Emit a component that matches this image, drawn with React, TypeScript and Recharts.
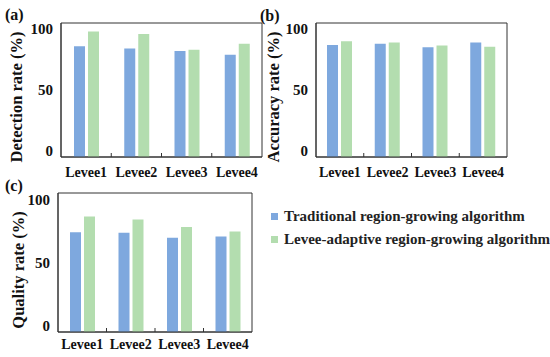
import React from "react";
import { BarChart, Bar, XAxis, YAxis, ReferenceArea, Legend } from "recharts";

const levees = ["Levee1", "Levee2", "Levee3", "Levee4"];
const detectionTraditional = [86, 84, 82, 79];
const detectionAdaptive = [98, 96, 83, 88];
const accuracyTraditional = [87, 88, 85, 89];
const accuracyAdaptive = [90, 89, 86.5, 85.5];
const qualityTraditional = [74, 73.5, 69.5, 70.5];
const qualityAdaptive = [86.5, 84, 78, 74.5];
const yTicks = [0, 50, 100];
const seriesNames = [
  "Traditional region-growing algorithm",
  "Levee-adaptive region-growing algorithm",
];

const Y_MIN = -5;
const Y_MAX = 105;
const BLUE = "#7ea8de";
const GREEN = "#b3ddaf";
const AXIS = "#333";
const FONT = "'Liberation Serif', 'Times New Roman', serif";

interface PanelProps {
  left: number;
  top: number;
  width: number;
  height: number;
  margin: { top: number; right: number; bottom: number; left: number };
  yWidth: number;
  xHeight: number;
  tickGap: number;
  title: string;
  titleX: number;
  titleY: number;
  traditional: number[];
  adaptive: number[];
  legend?: { left: number; top: number };
}

// keep the legend in series order (recharts sorts it by name otherwise)
const renderLegend = ({ payload }: any) => {
  const items = [...(payload || [])].sort(
    (a: any, b: any) => seriesNames.indexOf(a.value) - seriesNames.indexOf(b.value)
  );
  return (
    <div style={{ fontFamily: FONT, fontWeight: "bold", fontSize: 15, color: "#222" }}>
      {items.map((p: any) => (
        <div key={p.value} style={{ display: "flex", alignItems: "center", height: 23, whiteSpace: "nowrap" }}>
          <span style={{ display: "inline-block", width: 7, height: 7, background: p.color, marginRight: 6 }} />
          <span>{p.value}</span>
        </div>
      ))}
    </div>
  );
};

const Panel: React.FC<PanelProps> = ({
  left, top, width, height, margin, yWidth, xHeight, tickGap,
  title, titleX, titleY, traditional, adaptive, legend,
}) => {
  const data = levees.map((name, i) => ({
    name,
    traditional: traditional[i],
    adaptive: adaptive[i],
  }));
  const plotWidth = width - margin.left - margin.right - yWidth;
  const band = plotWidth / levees.length;

  // category labels plus the small boundary ticks between groups
  const xTick = (props: any) => {
    const { x, y, payload, index } = props;
    return (
      <g>
        {index > 0 && (
          <line
            x1={x - band / 2}
            x2={x - band / 2}
            y1={y - tickGap}
            y2={y - tickGap - 4}
            stroke={AXIS}
          />
        )}
        <text x={x} y={y} dy="0.71em" textAnchor="middle" fontFamily={FONT} fontWeight="bold" fontSize={14} fill="#111">
          {payload.value}
        </text>
      </g>
    );
  };

  const yLabel = () => (
    <text
      x={titleX}
      y={titleY}
      transform={`rotate(-90, ${titleX}, ${titleY})`}
      textAnchor="middle"
      dominantBaseline="central"
      fontFamily={FONT}
      fontWeight="bold"
      fontSize={16.5}
      fill="#111"
    >
      {title}
    </text>
  );

  return (
    <div style={{ position: "absolute", left, top }}>
      <BarChart width={width} height={height} data={data} margin={margin} barGap={3}>
        <XAxis
          dataKey="name"
          height={xHeight}
          interval={0}
          tickLine={false}
          tickSize={0}
          tickMargin={tickGap}
          axisLine={{ stroke: AXIS }}
          tick={xTick}
        />
        <YAxis
          type="number"
          width={yWidth}
          domain={[Y_MIN, Y_MAX]}
          ticks={yTicks}
          allowDataOverflow
          tickLine={false}
          axisLine={{ stroke: AXIS }}
          tick={{ fontSize: 15, fontWeight: "bold", fill: "#111", fontFamily: FONT }}
          label={yLabel}
        />
        <Bar
          dataKey={(d: any) => [Y_MIN, d.traditional]}
          name={seriesNames[0]}
          fill={BLUE}
          barSize={11}
          isAnimationActive={false}
        />
        <Bar
          dataKey={(d: any) => [Y_MIN, d.adaptive]}
          name={seriesNames[1]}
          fill={GREEN}
          barSize={11}
          isAnimationActive={false}
        />
        <ReferenceArea y1={Y_MIN} y2={Y_MAX} fill="none" stroke={AXIS} strokeWidth={1} />
        {legend && (
          <Legend
            layout="vertical"
            align="center"
            verticalAlign="middle"
            content={renderLegend}
            wrapperStyle={{ left: legend.left, top: legend.top, width: 280 }}
          />
        )}
      </BarChart>
    </div>
  );
};

const tagStyle: React.CSSProperties = {
  position: "absolute",
  fontFamily: FONT,
  fontWeight: "bold",
  fontSize: 16,
  lineHeight: "18px",
  color: "#111",
};

export default function App() {
  return (
    <div style={{ position: "absolute", left: 0, top: 0, width: 550, height: 357, background: "#fff", overflow: "hidden" }}>
      <Panel
        left={0}
        top={0}
        width={275}
        height={180}
        margin={{ top: 23, right: 13, bottom: 0, left: 0 }}
        yWidth={61}
        xHeight={23}
        tickGap={10}
        title="Detection rate (%)"
        titleX={16}
        titleY={97}
        traditional={detectionTraditional}
        adaptive={detectionAdaptive}
      />
      <Panel
        left={265}
        top={0}
        width={285}
        height={180}
        margin={{ top: 23, right: 43, bottom: 0, left: 0 }}
        yWidth={51}
        xHeight={23}
        tickGap={10}
        title="Accuracy rate (%)"
        titleX={8}
        titleY={97}
        traditional={accuracyTraditional}
        adaptive={accuracyAdaptive}
      />
      <Panel
        left={0}
        top={175}
        width={550}
        height={182}
        margin={{ top: 18, right: 298, bottom: 0, left: 0 }}
        yWidth={58}
        xHeight={25}
        tickGap={7}
        title="Quality rate (%)"
        titleX={18}
        titleY={95}
        traditional={qualityTraditional}
        adaptive={qualityAdaptive}
        legend={{ left: 271, top: 30 }}
      />
      <span style={{ ...tagStyle, left: 5, top: 6 }}>(a)</span>
      <span style={{ ...tagStyle, left: 260, top: 7 }}>(b)</span>
      <span style={{ ...tagStyle, left: 5, top: 177 }}>(c)</span>
    </div>
  );
}
